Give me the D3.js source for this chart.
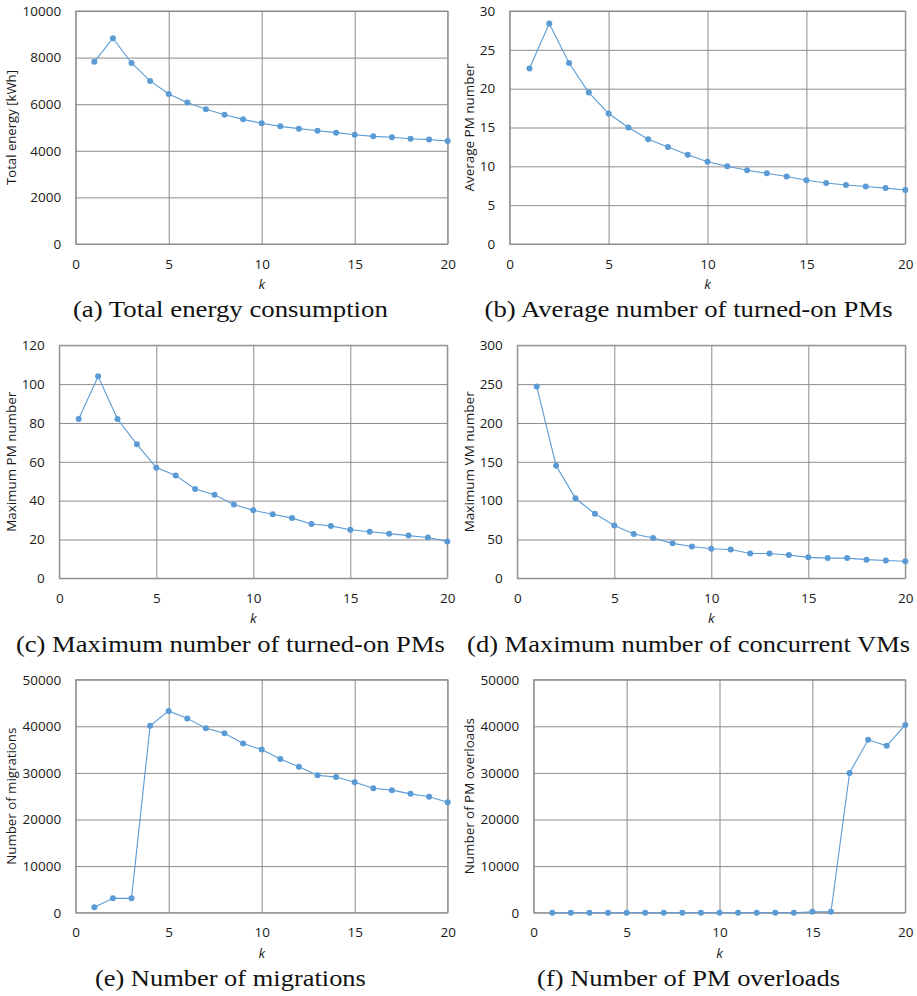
<!DOCTYPE html>
<html>
<head>
<meta charset="utf-8">
<script src="https://cdn.jsdelivr.net/npm/d3@7"></script>
<style>
  body { margin: 0; background: #fff; }
</style>
</head>
<body>
<svg id="fig" width="917" height="996"></svg>
<script>
// k values on the x axis
var k = [1, 2, 3, 4, 5, 6, 7, 8, 9, 10, 11, 12, 13, 14, 15, 16, 17, 18, 19, 20];
var xTicks = [0, 5, 10, 15, 20];

// series
var energy = [7820, 8830, 7770, 7000, 6440, 6070, 5780, 5550, 5350, 5180,
              5050, 4950, 4860, 4780, 4690, 4620, 4580, 4520, 4480, 4420];
var avgPM = [22.6, 28.4, 23.3, 19.5, 16.8, 15.0, 13.5, 12.5, 11.5, 10.6,
             10.0, 9.5, 9.1, 8.7, 8.2, 7.85, 7.6, 7.4, 7.2, 6.95];
var maxPM = [82, 104, 82, 69, 57, 53, 46, 43, 38, 35, 33, 31, 28, 27, 25, 24, 23, 22, 21, 19];
var maxVM = [247, 145, 103, 83, 68, 57, 52, 45, 41, 38, 37, 32, 32, 30, 27, 26, 26, 24, 23, 22];
var migrations = [1150, 3080, 3080, 40100, 43300, 41700, 39600, 38500, 36300, 35000,
                  33000, 31300, 29500, 29100, 28000, 26700, 26300, 25500, 24900, 23700];
var overloads = [0, 0, 0, 0, 0, 0, 0, 0, 0, 0, 0, 0, 0, 0, 200, 200, 30000, 37100, 35800, 40300];

// y tick labels
var energyTicks = [0, 2000, 4000, 6000, 8000, 10000];
var avgPMTicks = [0, 5, 10, 15, 20, 25, 30];
var maxPMTicks = [0, 20, 40, 60, 80, 100, 120];
var maxVMTicks = [0, 50, 100, 150, 200, 250, 300];
var migTicks = [0, 10000, 20000, 30000, 40000, 50000];
var overTicks = [0, 10000, 20000, 30000, 40000, 50000];

var captions = ["(a) Total energy consumption", "(b) Average number of turned-on PMs",
                "(c) Maximum number of turned-on PMs", "(d) Maximum number of concurrent VMs",
                "(e) Number of migrations", "(f) Number of PM overloads"];
var yTitles = ["Total energy [kWh]", "Average PM number", "Maximum PM number",
               "Maximum VM number", "Number of migrations", "Number of PM overloads"];

var svg = d3.select("#fig");
var H = 233;          // plot height
var rowTop = [11, 345.3, 679.7];
var gridColor = "#8c8c8c";
var lineColor = "#5b9bd5";
var sans = "'Open Sans', sans-serif";

var panels = [
  {vals: energy,     ticks: energyTicks, left: 75.7,  right: 447.7, row: 0, mid: 230.4, titleX: 12,    titleW: 115, capW: 315},
  {vals: avgPM,      ticks: avgPMTicks,  left: 509.7, right: 905.3, row: 0, mid: 688.6, titleX: 469.7, titleW: 128, capW: 408},
  {vals: maxPM,      ticks: maxPMTicks,  left: 59.3,  right: 447.3, row: 1, mid: 230.4, titleX: 12,    titleW: 140, capW: 429},
  {vals: maxVM,      ticks: maxVMTicks,  left: 517.3, right: 905.3, row: 1, mid: 688.6, titleX: 469.7, titleW: 141, capW: 443},
  {vals: migrations, ticks: migTicks,    left: 75.7,  right: 447.7, row: 2, mid: 230.4, titleX: 12,    titleW: 137, capW: 271},
  {vals: overloads,  ticks: overTicks,   left: 533.7, right: 905.3, row: 2, mid: 688.6, titleX: 469.7, titleW: 156, capW: 303}
];

panels.forEach(function (p, i) {
  var top = rowTop[p.row];
  var bottom = top + H;
  var w = p.right - p.left;
  var x = d3.scaleLinear().domain([0, 20]).range([p.left, p.right]);
  var y = d3.scaleLinear().domain([0, d3.max(p.ticks)]).range([bottom, top]);
  var g = svg.append("g");

  // horizontal grid + y labels
  var ya = g.append("g")
    .attr("transform", "translate(" + p.left + ",0)")
    .call(d3.axisLeft(y).tickValues(p.ticks).tickSize(-w).tickPadding(14.5).tickFormat(d3.format("d")));
  // vertical grid + x labels
  var xa = g.append("g")
    .attr("transform", "translate(0," + bottom + ")")
    .call(d3.axisBottom(x).tickValues(xTicks).tickSize(-H).tickPadding(15).tickFormat(d3.format("d")));

  [ya, xa].forEach(function (a) {
    a.select(".domain").remove();
    a.selectAll("line").attr("stroke", gridColor).attr("stroke-width", 1);
    a.selectAll("text")
      .attr("fill", "#1a1a1a")
      .style("font-family", sans)
      .style("font-size", "13.5px");
  });

  g.append("rect")
    .attr("x", p.left).attr("y", top)
    .attr("width", w).attr("height", H)
    .attr("fill", "none").attr("stroke", gridColor).attr("stroke-width", 1);

  var line = d3.line()
    .x(function (d, j) { return x(k[j]); })
    .y(function (d) { return y(d); });

  g.append("path")
    .datum(p.vals)
    .attr("d", line)
    .attr("fill", "none")
    .attr("stroke", lineColor)
    .attr("stroke-width", 1.1);

  g.selectAll("circle.pt")
    .data(p.vals)
    .enter()
    .append("circle")
    .attr("class", "pt")
    .attr("cx", function (d, j) { return x(k[j]); })
    .attr("cy", function (d) { return y(d); })
    .attr("r", 3)
    .attr("fill", lineColor);

  // y axis title
  g.append("text")
    .attr("transform", "translate(" + p.titleX + "," + (top + H / 2) + ") rotate(-90)")
    .attr("text-anchor", "middle")
    .attr("dy", "0.35em")
    .attr("textLength", p.titleW)
    .attr("lengthAdjust", "spacingAndGlyphs")
    .attr("fill", "#1a1a1a")
    .style("font-family", sans)
    .style("font-size", "12.5px")
    .text(yTitles[i]);

  // x axis title
  g.append("text")
    .attr("x", (p.left + p.right) / 2)
    .attr("y", bottom + 45)
    .attr("text-anchor", "middle")
    .attr("fill", "#1a1a1a")
    .style("font-family", sans)
    .style("font-size", "13.5px")
    .style("font-style", "italic")
    .text("k");

  // caption
  g.append("text")
    .attr("x", p.mid)
    .attr("y", top + 306.3)
    .attr("text-anchor", "middle")
    .attr("textLength", p.capW)
    .attr("lengthAdjust", "spacingAndGlyphs")
    .attr("fill", "#111")
    .style("font-family", "'Liberation Serif', 'Times New Roman', serif")
    .style("font-size", "23px")
    .text(captions[i]);
});
</script>
</body>
</html>
